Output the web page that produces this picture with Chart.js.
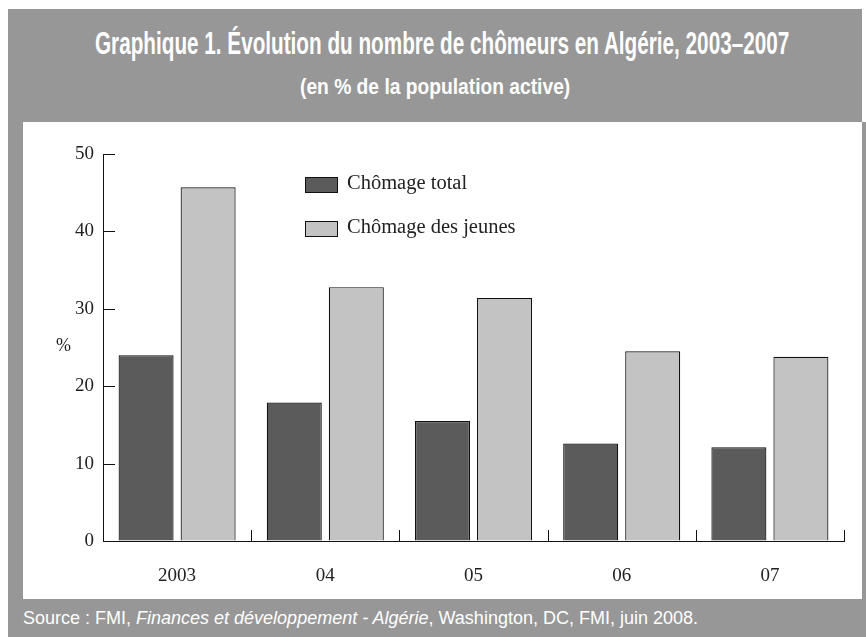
<!DOCTYPE html>
<html>
<head>
<meta charset="utf-8">
<script src="https://cdn.jsdelivr.net/npm/chart.js@4/dist/chart.umd.min.js"></script>
<style>
  body { margin: 0; width: 866px; height: 637px; background: #fff; position: relative; overflow: hidden; }
  .gray { position: absolute; background: #979797; }
  .head { position: absolute; color: #fff; font-family: "Liberation Sans Narrow", "Liberation Sans", sans-serif;
          font-weight: bold; white-space: nowrap; transform-origin: left center; }
  #title { left: 95px; top: 26px; font-size: 31px; }
  #subtitle { left: 300px; top: 74px; font-size: 22px; }
  #footer { position: absolute; left: 23px; top: 608px; color: #fff; font-family: "Liberation Sans", Arial, sans-serif; font-size: 18px; white-space: nowrap; }
  #wrap { position: absolute; left: 23px; top: 122px; width: 839px; height: 477px; }
  .leg { position: absolute; font-family: "Liberation Serif", serif; font-size: 20.5px; color: #222; white-space: nowrap; }
  .leg i { position: absolute; left: 0; top: 0; width: 31px; height: 14px; border: 1px solid #111; }
  .leg b { position: absolute; left: 42px; top: -6px; font-weight: normal; }
  #pct { position: absolute; left: 56px; top: 335px; font-family: "Liberation Serif", serif; font-size: 18px; color: #222; }
</style>
</head>
<body>
<div class="gray" style="left:8px;top:9px;width:854px;height:113px"></div>
<div class="gray" style="left:8px;top:122px;width:15px;height:477px"></div>
<div class="gray" style="left:862px;top:122px;width:4px;height:477px"></div>
<div class="gray" style="left:8px;top:599px;width:858px;height:38px"></div>
<div id="title" class="head">Graphique 1. Évolution du nombre de chômeurs en Algérie, 2003–2007</div>
<div id="subtitle" class="head">(en % de la population active)</div>
<div id="footer">Source : FMI, <i>Finances et développement - Algérie</i>, Washington, DC, FMI, juin 2008.</div>
<div id="wrap"><canvas id="chart"></canvas></div>
<div id="pct">%</div>
<div class="leg" style="left:305px;top:177px"><i style="background:#5b5b5b"></i><b>Chômage total</b></div>
<div class="leg" style="left:305px;top:221px"><i style="background:#c3c3c3"></i><b>Chômage des jeunes</b></div>
<script>
const years = ['2003', '04', '05', '06', '07'];
const chomageTotal = [24.0, 17.9, 15.5, 12.6, 12.1];
const chomageJeunes = [45.7, 32.8, 31.4, 24.5, 23.8];
const yTicks = [0, 10, 20, 30, 40, 50];

// squeeze the header texts to the width they have in the reference
function fit(id, w) {
    const el = document.getElementById(id);
    el.style.transform = 'scaleX(' + (w / el.offsetWidth) + ')';
}
fit('title', 694);
fit('subtitle', 270);

const tickMarks = {
    id: 'tickMarks',
    afterDraw(chart) {
        const { ctx, scales: { x, y } } = chart;
        ctx.save();
        ctx.strokeStyle = '#111';
        ctx.lineWidth = 1;
        ctx.beginPath();
        yTicks.forEach(v => {
            if (v === 0) return;
            const py = Math.round(y.getPixelForValue(v)) + 0.5;
            ctx.moveTo(x.left, py);
            ctx.lineTo(x.left + 12, py);
        });
        const half = (x.right - x.left) / years.length / 2;
        years.forEach((c, i) => {
            const px = Math.round(x.getPixelForValue(i) + half) + 0.5;
            ctx.moveTo(px, y.bottom);
            ctx.lineTo(px, y.bottom - 11);
        });
        ctx.stroke();
        ctx.restore();
    }
};

const serif = { family: '"Liberation Serif", serif', size: 19 };

new Chart(document.getElementById('chart').getContext('2d'), {
    type: 'bar',
    data: {
        labels: years,
        datasets: [
            {
                label: 'Chômage total',
                data: chomageTotal,
                backgroundColor: '#5b5b5b',
                borderColor: '#111',
                borderWidth: 1.2,
            },
            {
                label: 'Chômage des jeunes',
                data: chomageJeunes,
                backgroundColor: '#c3c3c3',
                borderColor: '#111',
                borderWidth: 1.2,
            }
        ]
    },
    options: {
        responsive: true,
        maintainAspectRatio: false,
        animation: false,
        categoryPercentage: 0.837,
        barPercentage: 0.887,
        layout: { padding: { top: 32, right: 18, left: 0, bottom: 0 } },
        plugins: { legend: { display: false }, tooltip: { enabled: false } },
        scales: {
            x: {
                grid: { color: 'rgba(0,0,0,0)', drawTicks: false },
                border: { display: true, color: '#111', width: 1 },
                ticks: { font: serif, color: '#222', padding: 24 },
                afterFit: s => { s.height = 58; }
            },
            y: {
                min: 0,
                max: 50,
                grid: { color: 'rgba(0,0,0,0)', drawTicks: false },
                border: { display: true, color: '#111', width: 1 },
                ticks: { stepSize: 10, font: serif, color: '#222', padding: 9 },
                afterFit: s => { s.width = 80; }
            }
        }
    },
    plugins: [tickMarks]
});
</script>
</body>
</html>
